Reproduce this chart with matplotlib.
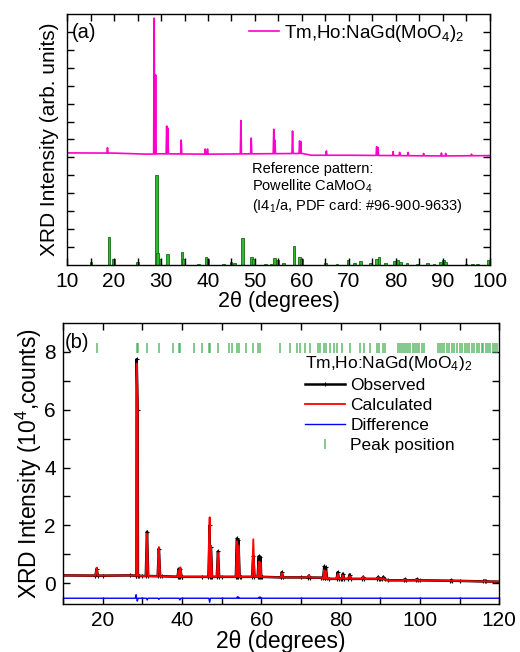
import numpy as np
import matplotlib
matplotlib.use("Agg")
from matplotlib import pyplot as plt

plt.rcParams['font.family'] = ['Liberation Sans', 'DejaVu Sans']
plt.rcParams['mathtext.default'] = 'regular'

# ---- (a) measured pattern, arbitrary units (offset above reference) ----
a_bg_x = [10, 20, 27, 30, 40, 50, 60, 62, 70, 80, 90, 100]
a_bg_y = [6.25, 6.24, 6.18, 6.2, 6.18, 6.2, 6.22, 6.12, 6.12, 6.1, 6.08, 6.1]
a_pk_x = [18.6, 28.55, 28.85, 31.2, 31.45, 34.3, 39.4, 39.9, 47.0, 49.2, 54.0, 54.25,
          58.0, 59.5, 59.75, 65.2, 75.9, 76.2, 79.4, 80.8, 82.6, 85.9, 89.7, 90.6, 96.1]
a_pk_y = [6.54, 13.76, 10.6, 7.75, 7.64, 6.97, 6.47, 6.47, 8.05, 7.08, 7.57, 6.97,
          7.47, 6.92, 6.88, 6.36, 6.6, 6.55, 6.32, 6.28, 6.28, 6.22, 6.24, 6.22, 6.18]

# reference pattern: Powellite CaMoO4
ref_x = [15.05, 18.88, 19.9, 25.0, 29.0, 29.3, 29.8, 31.4, 34.5, 34.8, 38.0, 39.6, 40.0,
         43.3, 44.9, 45.6, 47.3, 49.2, 49.7, 52.2, 53.4, 54.1, 54.8, 56.1, 58.3, 59.5,
         59.9, 65.0, 67.5, 69.8, 71.2, 72.5, 74.6, 75.9, 76.4, 77.8, 79.7, 80.3, 81.0,
         82.4, 84.6, 86.7, 88.1, 89.5, 90.1, 90.6, 94.9, 96.3, 97.4, 99.6]
ref_y = [0.15, 1.58, 0.31, 0.15, 5.02, 0.69, 0.31, 0.59, 0.74, 0.35, 0.05, 0.43, 0.31,
         0.08, 0.18, 0.12, 1.51, 0.43, 0.31, 0.05, 0.05, 0.41, 0.3, 0.12, 1.06, 0.43,
         0.35, 0.1, 0.06, 0.28, 0.12, 0.2, 0.12, 0.35, 0.43, 0.12, 0.22, 0.28, 0.18,
         0.12, 0.08, 0.1, 0.08, 0.15, 0.28, 0.18, 0.06, 0.08, 0.06, 0.25]

# ---- (b) Rietveld refinement, 10^4 counts ----
b_bg_x = [10, 20, 27, 30, 35, 40, 45, 50, 55, 60, 65, 70, 75, 77, 80, 90, 92, 100, 110, 120]
b_bg_y = [0.27, 0.26, 0.27, 0.25, 0.24, 0.22, 0.22, 0.22, 0.22, 0.22, 0.2, 0.2, 0.19,
          0.15, 0.15, 0.15, 0.1, 0.1, 0.08, 0.05]
calc_x = [18.5, 28.6, 28.85, 31.2, 34.2, 39.2, 39.6, 47.0, 47.3, 49.1, 53.9, 54.25,
          58.0, 59.4, 59.8, 65.2, 72.0, 75.9, 76.3, 79.3, 80.6, 82.3, 85.7, 89.5, 90.8,
          96.2, 99.2, 107.8, 116.3]
calc_y = [0.54, 7.6, 6.1, 1.72, 1.25, 0.45, 0.55, 2.28, 1.3, 1.05, 1.45, 1.3,
          1.52, 0.75, 0.72, 0.35, 0.28, 0.45, 0.42, 0.32, 0.27, 0.25, 0.22, 0.2, 0.18,
          0.13, 0.13, 0.09, 0.08]
obs_y = [0.5, 7.75, 6.0, 1.78, 1.2, 0.5, 0.5, 2.0, 1.25, 1.1, 1.55, 1.5,
         0.95, 0.93, 0.9, 0.38, 0.26, 0.58, 0.55, 0.38, 0.33, 0.3, 0.22, 0.22, 0.22,
         0.14, 0.14, 0.1, 0.09]
diff_base = -0.52
diff_x = [28.45, 28.75, 31.25, 34.2, 39.5, 47.0, 54.0, 54.3, 59.5, 59.8]
diff_y = [-0.40, -0.62, -0.58, -0.56, -0.58, -0.66, -0.47, -0.48, -0.48, -0.48]

bragg_x = [18.5, 28.6, 28.9, 31.3, 34.2, 37.7, 39.2, 39.6, 43.0, 45.1, 46.9, 47.2, 49.0,
           51.8, 52.7, 53.9, 54.3, 56.1, 57.9, 59.3, 59.8, 64.7, 67.2, 68.9, 69.9, 71.1,
           72.4, 74.2, 74.9, 75.8, 76.4, 77.3, 78.4, 79.1, 80.4, 82.5, 84.8, 86.0, 87.5,
           89.2, 89.8, 90.7, 91.3, 94.6, 95.1, 95.6, 96.1, 96.6, 97.1, 97.6, 98.3, 98.8,
           99.3, 99.9, 100.5, 101.1, 104.5, 105.1, 105.6, 106.1, 106.8, 107.4, 108.1,
           108.7, 109.3, 110.0, 110.7, 111.4, 111.9, 112.5, 113.1, 113.7, 114.4, 115.0,
           115.6, 116.0, 116.7, 117.3, 117.7, 118.4, 119.0, 119.4]
bragg_level = 8.15


def spiky(bg_x, bg_y, pk_x, pk_y, hw):
    # baseline polyline with a narrow spike at every peak
    xs = list(bg_x)
    ys = list(bg_y)
    for p, h in zip(pk_x, pk_y):
        b = np.interp(p, bg_x, bg_y)
        xs += [p - hw, p, p + hw]
        ys += [b, h, b]
    order = np.argsort(xs, kind='stable')
    return np.array(xs)[order], np.array(ys)[order]


fig = plt.figure(figsize=(5.2, 6.52), dpi=100)
ax1 = fig.add_axes([0.129, 0.5936, 0.813, 0.385])
ax2 = fig.add_axes([0.121, 0.0736, 0.839, 0.431])

# panel (a)
x, y = spiky(a_bg_x, a_bg_y, a_pk_x, a_pk_y, 0.12)
ax1.plot(x, y, color='#ff00cc', lw=1.2, label='Tm,Ho:NaGd(MoO$_4$)$_2$')
ax1.bar(ref_x, ref_y, width=0.55, color='#30b830', edgecolor='#107010', lw=0.6)
ax1.set_xlim(10, 100)
ax1.set_ylim(0, 14)
ax1.set_xticks(np.arange(10, 101, 10))
ax1.set_xticks(np.arange(15, 100, 10), minor=True)
ax1.set_yticks(np.arange(1, 14, 1))
ax1.set_yticklabels([])
ax1.set_xlabel('2θ (degrees)', fontsize=15.5, labelpad=0)
ax1.set_ylabel('XRD Intensity (arb. units)', fontsize=15, labelpad=1)
ax1.text(0.01, 0.965, '(a)', transform=ax1.transAxes, fontsize=14.5, va='top')
ax1.text(49.4, 5.75, 'Reference pattern:\nPowellite CaMoO$_4$\n(I4$_1$/a, PDF card: #96-900-9633)',
         fontsize=10.5, va='top', linespacing=1.15)
ax1.legend(loc='upper left', bbox_to_anchor=(0.43, 0.965), frameon=False, fontsize=13.5,
           handlelength=1.6, handletextpad=0.3, borderpad=0, borderaxespad=0)

# panel (b)
x, y = spiky(b_bg_x, b_bg_y, calc_x, obs_y, 0.3)
ax2.plot(x, y, color='black', lw=1.8, marker='+', ms=3, mew=0.8, label='Observed')
x, y = spiky(b_bg_x, b_bg_y, calc_x, calc_y, 0.3)
ax2.plot(x, y, color='#ff0000', lw=1.3, label='Calculated')
x, y = spiky([10, 120], [diff_base, diff_base], diff_x, diff_y, 0.2)
ax2.plot(x, y, color='#0000ff', lw=1.0, label='Difference')
ax2.plot(bragg_x, [bragg_level] * len(bragg_x), ls='none', marker='|', ms=7.5, mew=1.2,
         color='#3cab4c', alpha=0.75, label='Peak position')
ax2.set_xlim(10, 120)
ax2.set_ylim(-0.72, 9)
ax2.set_xticks(np.arange(20, 121, 20))
ax2.set_xticks(np.arange(10, 121, 20), minor=True)
ax2.set_yticks(np.arange(0, 9, 2))
ax2.set_yticks(np.arange(1, 9, 2), minor=True)
ax2.set_xlabel('2θ (degrees)', fontsize=16.5, labelpad=0)
ax2.set_ylabel('XRD Intensity (10$^4$,counts)', fontsize=16.5, labelpad=0)
ax2.text(0.005, 0.965, '(b)', transform=ax2.transAxes, fontsize=14.5, va='top')
leg = ax2.legend(loc='upper left', bbox_to_anchor=(0.555, 0.89), frameon=False, fontsize=12.5,
                 title='Tm,Ho:NaGd(MoO$_4$)$_2$', title_fontsize=12.5, alignment='left',
                 handlelength=2.3, handletextpad=0.3, labelspacing=0.28, borderpad=0,
                 borderaxespad=0)

for ax in (ax1, ax2):
    ax.tick_params(which='both', direction='in', top=True, right=True, labelsize=15,
                   length=5, width=1, pad=5)
    for s in ax.spines.values():
        s.set_linewidth(1.0)

fig.savefig('out.png', dpi=100)
